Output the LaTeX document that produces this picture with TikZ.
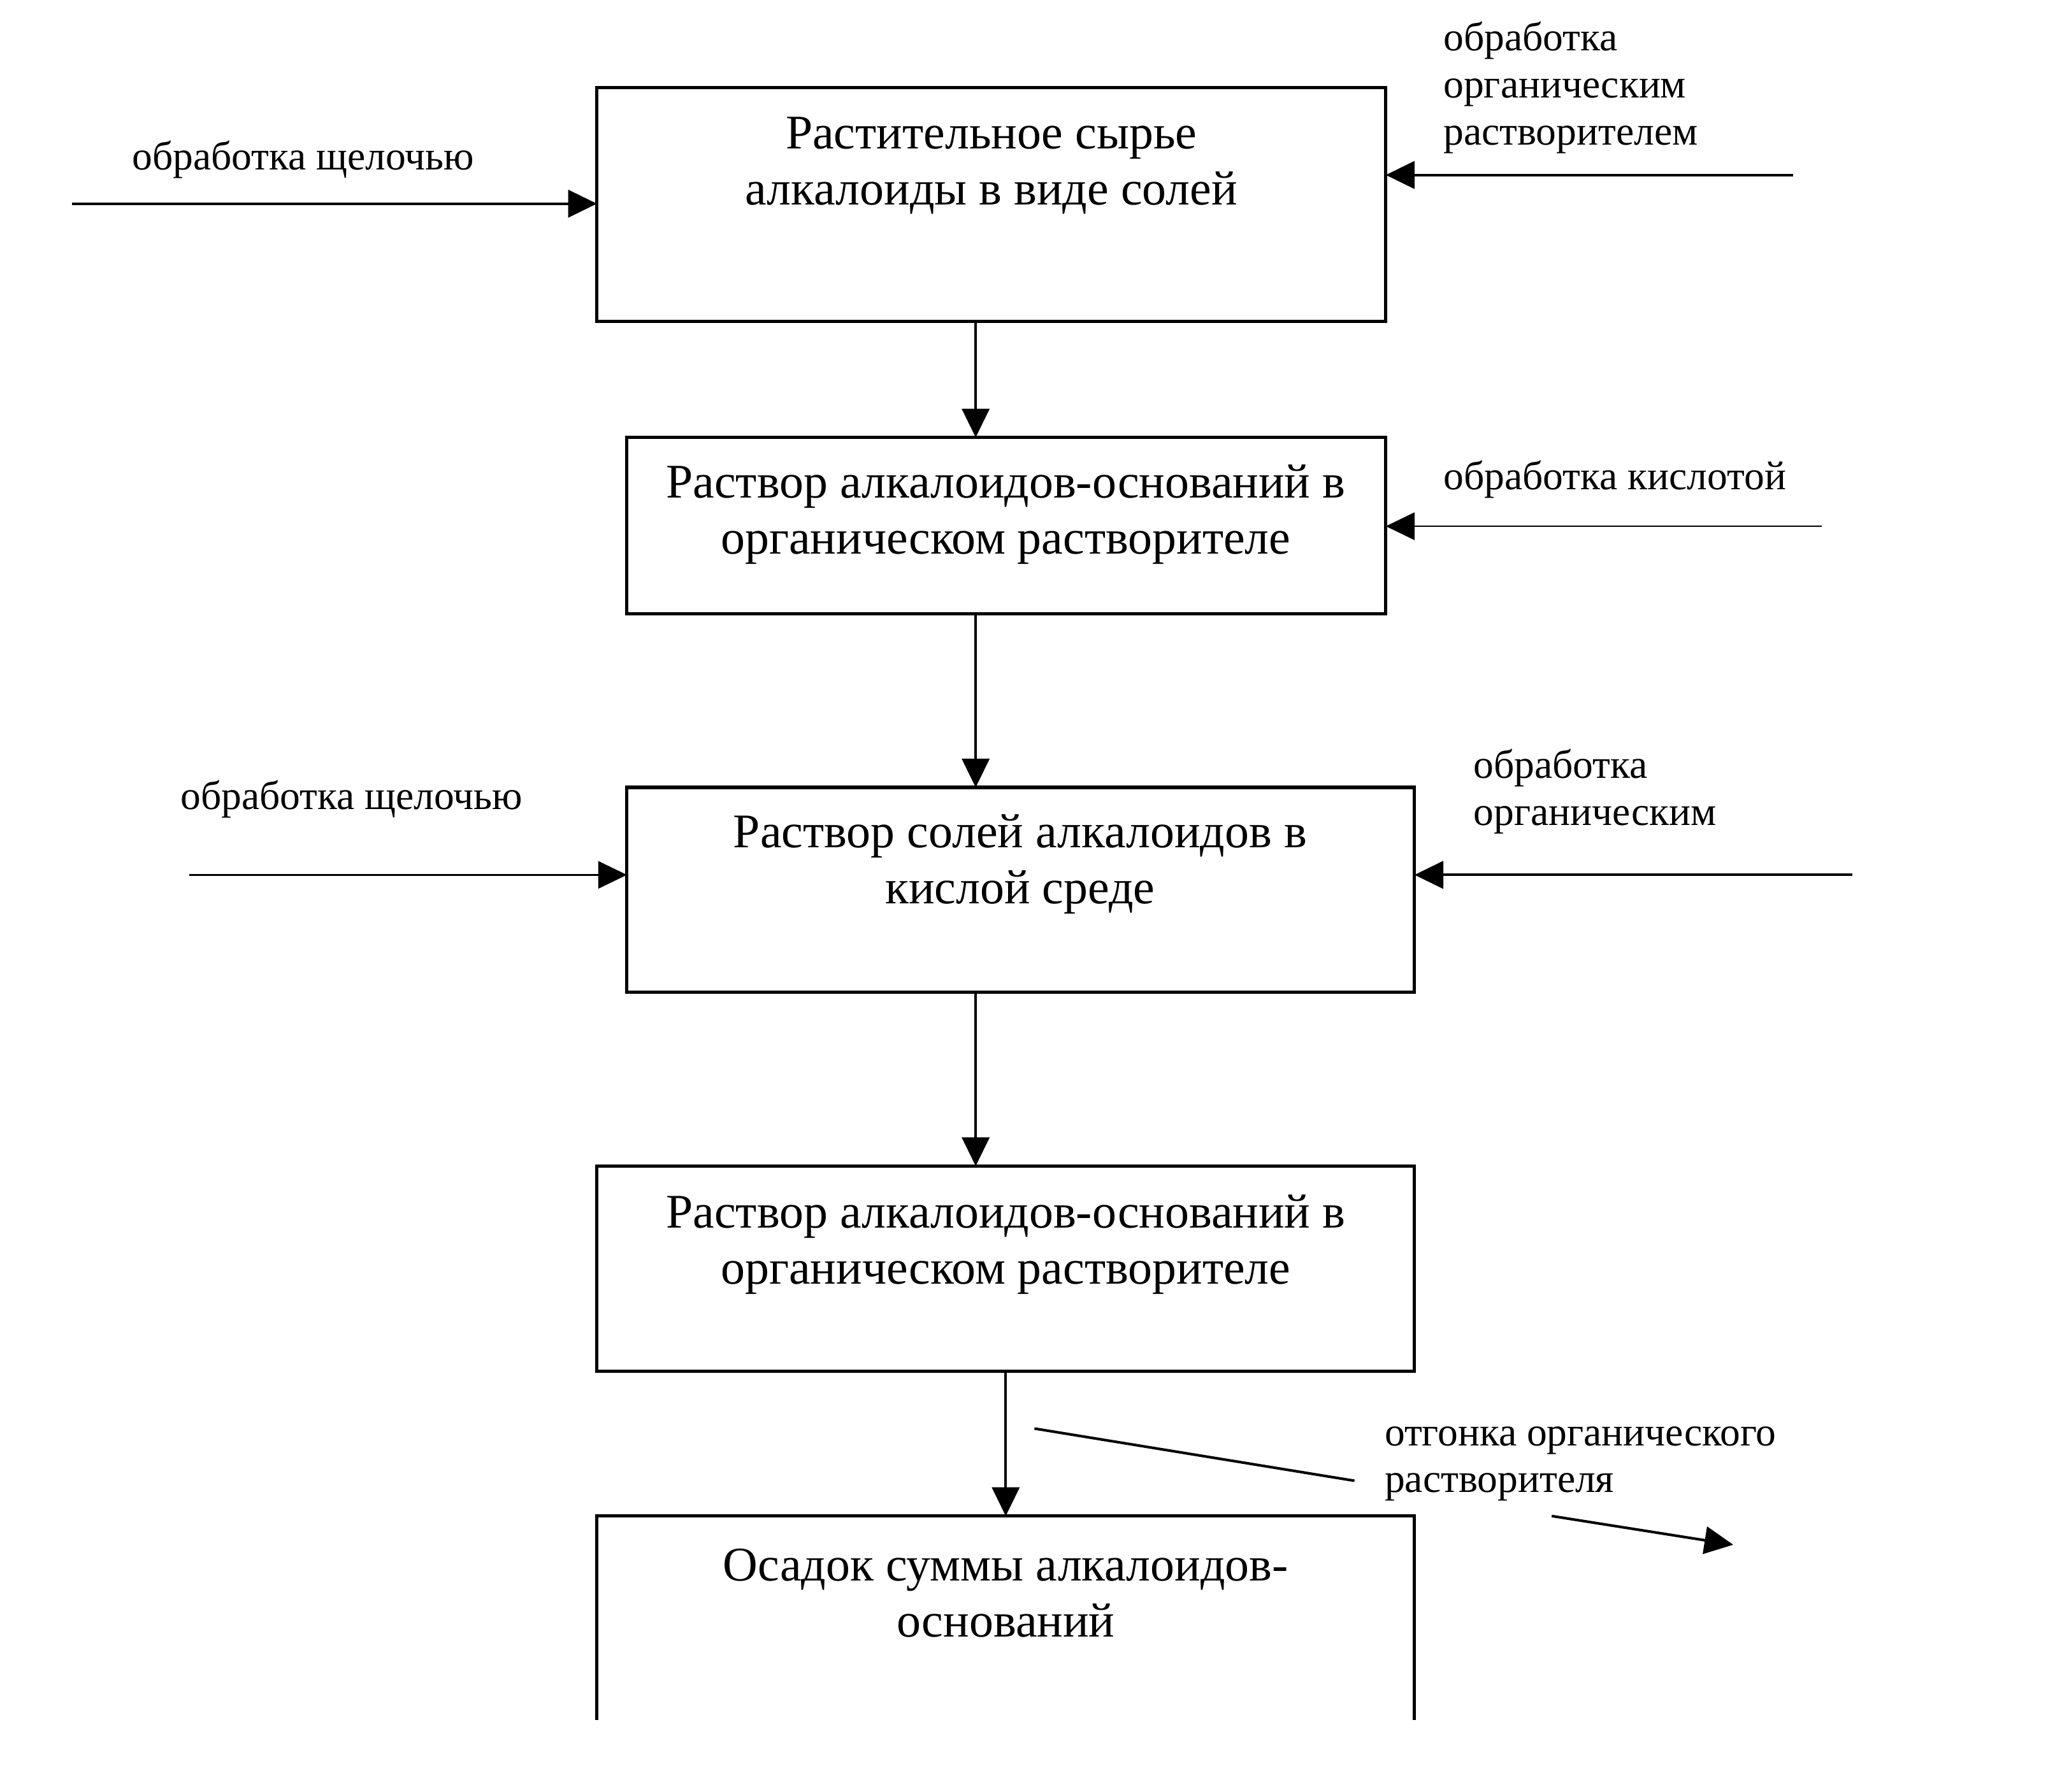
\documentclass[tikz,border=0pt]{standalone}
\usepackage{fontspec}
\setmainfont{Liberation Serif}
\usetikzlibrary{arrows.meta}
\begin{document}
\begin{tikzpicture}[x=1pt,y=-1pt,
  boxtext/.style={align=center,font=\fontsize{37}{43}\selectfont,inner sep=0pt},
  lbl/.style={align=left,font=\fontsize{31}{36}\selectfont,inner sep=0pt,anchor=west},
  frame/.style={draw,line width=2.5pt,inner sep=0pt,outer sep=0pt},
  openframe/.style={inner sep=0pt,outer sep=0pt},
  arr/.style={line width=2pt,-{Triangle[length=22pt,width=21pt]}},
  thinarr/.style={line width=1.2pt,-{Triangle[length=22pt,width=21pt]}},
  plain/.style={line width=2pt}
]
\useasboundingbox (0,0) rectangle (1568,1372);

% boxes
\node[frame,minimum width=604pt,minimum height=179pt] (b1) at (759,156.5) {};
\node[frame,minimum width=581pt,minimum height=135pt] (b2) at (770.5,402.5) {};
\node[frame,minimum width=603pt,minimum height=157pt] (b3) at (781.5,681.5) {};
\node[frame,minimum width=626pt,minimum height=157pt] (b4) at (770,971.5) {};
\node[openframe,minimum width=626pt,minimum height=156pt] (b5) at (770,1239) {};
\draw[line width=2.5pt] (b5.south west) -- (b5.north west) -- (b5.north east) -- (b5.south east);

% box texts
\node[boxtext] (t1) at (759,127) {Растительное сырье\\алкалоиды в виде солей};
\node[boxtext] (t2) at (770,394) {Раствор алкалоидов-оснований в\\органическом растворителе};
\node[boxtext] (t3) at (781,662) {Раствор солей алкалоидов в\\кислой среде};
\node[boxtext] (t4) at (770,953) {Раствор алкалоидов-оснований в\\органическом растворителе};
\node[boxtext] (t5) at (770,1220) {Осадок суммы алкалоидов-\\оснований};

% vertical arrows
\draw[arr] ([xshift=290pt]b1.south west) -- ([xshift=267pt]b2.north west);
\draw[arr] ([xshift=267pt]b2.south west) -- ([xshift=267pt]b3.north west);
\draw[arr] ([xshift=267pt]b3.south west) -- ([xshift=290pt]b4.north west);
\draw[arr] ([xshift=313pt]b4.south west) -- ([xshift=313pt]b5.north west);

% side inputs
\coordinate (i1) at (55,156);
\draw[arr] (i1) -- (i1 -| b1.west);
\node[lbl] (l1) at (101,122) {обработка щелочью};

\coordinate (i2) at (1373,134);
\draw[arr] (i2) -- (i2 -| b1.east);
\node[lbl] (l2) at (1105,67) {обработка\\органическим\\растворителем};

\coordinate (i3) at (1395,403);
\draw[thinarr] (i3) -- (i3 -| b2.east);
\node[lbl] (l3) at (1105,367) {обработка кислотой};

\coordinate (i4) at (145,670);
\draw[thinarr] (i4) -- (i4 -| b3.west);
\node[lbl] (l4) at (138,612) {обработка щелочью};

\coordinate (i5) at (1418,670);
\draw[arr] (i5) -- (i5 -| b3.east);
\node[lbl] (l5) at (1128,606) {обработка\\органическим};

% distillation output
\coordinate (s1) at (792,1094);
\coordinate (s2) at (1037,1134);
\coordinate (s3) at (1188,1161);
\coordinate (s4) at (1327,1183);
\draw[plain] (s1) -- (s2);
\draw[arr] (s3) -- (s4);
\node[lbl] (l6) at (1060,1121) {отгонка органического\\растворителя};
\end{tikzpicture}
\end{document}
